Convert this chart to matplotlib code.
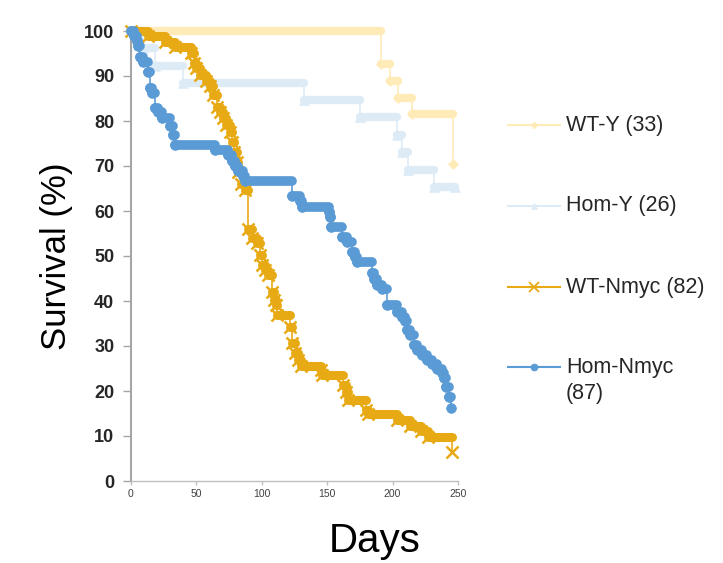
import matplotlib
matplotlib.use('Agg')
import matplotlib.pyplot as plt
from matplotlib.lines import Line2D

plt.rcParams['font.family'] = ['Liberation Sans', 'DejaVu Sans']

# Kaplan-Meier curves: day of each step, survival (%) after it
wty_days = [0, 191, 198, 204, 215, 246]
wty_surv = [100, 92.6, 88.9, 85.2, 81.5, 70.4]

homy_days = [0, 9, 18, 40, 132, 175, 203, 207, 212, 232, 248]
homy_surv = [100, 96.2, 92.3, 88.5, 84.6, 80.8, 76.9, 73.1, 69.2, 65.4, 65.4]

wtn_days = [0, 13, 26, 34, 46, 48, 49.5, 53, 57, 60.5, 63, 65.5, 68, 70.5, 73,
            75.8, 77, 79, 81, 82, 84, 87, 89.6, 92.4, 96, 98.8, 100, 102.5, 105,
            108, 109.5, 111, 112, 121.6, 123, 125, 128, 129.6, 145, 146, 162,
            164, 166, 180, 181, 203, 213, 222, 227, 245.5]
wtn_surv = [100, 98.8, 97.6, 96.4, 95.2, 92.9, 91.7, 90.2, 89.0, 87.8, 85.8,
            83.2, 82.1, 80.6, 79.1, 77.6, 75.4, 73.2, 71.0, 68.7, 66.1, 64.7,
            56.1, 53.9, 52.8, 50.2, 48.0, 46.9, 45.8, 42.0, 40.2, 39.1, 36.9,
            34.3, 30.6, 28.4, 26.9, 25.6, 24.7, 23.5, 21.3, 19.8, 18.0, 15.8,
            14.9, 13.6, 12.2, 11.1, 9.8, 6.4]

homn_days = [0, 2, 4.4, 5.4, 7, 9, 13, 14.5, 15.8, 18.4, 20.7, 23.5, 30, 32.4,
             33.7, 64, 74, 77, 79.6, 82, 85.7, 87, 123, 129, 131, 151, 152, 153,
             161, 165, 169, 171.5, 173, 184, 186, 188, 192, 195.5, 203, 207,
             209.8, 211, 213.6, 216, 218.7, 222.6, 226.4, 230.2, 234, 238, 239,
             240.5, 243, 244.8]
homn_surv = [100, 98.9, 97.7, 96.6, 94.3, 93.1, 90.8, 87.4, 86.2, 83.0, 81.9,
             80.7, 78.9, 76.9, 74.7, 73.6, 72.4, 71.2, 70.0, 68.8, 67.8, 66.7,
             63.4, 62.2, 61.0, 59.8, 58.6, 56.5, 54.3, 53.2, 51.0, 49.8, 48.7,
             46.3, 44.9, 43.6, 42.6, 39.1, 37.6, 36.5, 35.5, 33.6, 32.4, 30.2,
             29.1, 28.0, 26.9, 26.1, 25.0, 23.9, 23.0, 21.0, 18.7, 16.3]

labels = ['WT-Y (33)', 'Hom-Y (26)', 'WT-Nmyc (82)', 'Hom-Nmyc\n(87)']
colors = ['#FFEBB8', '#DDEBF7', '#E8AA14', '#5B9BD5']
markers = ['D', '^', 'x', 'o']

series = [(wty_days, wty_surv), (homy_days, homy_surv),
          (wtn_days, wtn_surv), (homn_days, homn_surv)]
msizes = [5.5, 7.5, 8, 7]
bands = [6, 6, 6.5, 7]


def draw_km(ax, days, surv, color, marker, ms, band, z):
    ax.plot(days, surv, drawstyle='steps-post', color=color, lw=1.2,
            zorder=z, clip_on=False)
    lc = ax.hlines(surv[:-1], days[:-1], days[1:], colors=color, lw=band,
                   zorder=z, clip_on=False)
    lc.set_capstyle('round')
    ax.plot(days, surv, ls='none', marker=marker, ms=ms, color=color,
            mew=1.8 if marker == 'x' else 0.5, zorder=z + 0.5, clip_on=False)


fig = plt.figure(figsize=(7.23, 5.63), dpi=100)
ax = fig.add_axes([131 / 723, 82 / 563, 327 / 723, 450 / 563])

for i, (d, s) in enumerate(series):
    draw_km(ax, d, s, colors[i], markers[i], msizes[i], bands[i], 2 + i)

ax.set_xlim(0, 250)
ax.set_ylim(0, 100)
ax.set_xticks(range(0, 251, 50))
ax.set_yticks(range(0, 101, 10))
for side in ['top', 'right']:
    ax.spines[side].set_visible(False)
ax.spines['left'].set_color('#A6A6A6')
ax.spines['left'].set_linewidth(1.5)
ax.spines['bottom'].set_color('#BFBFBF')
ax.spines['bottom'].set_linewidth(1.0)
ax.tick_params(axis='y', length=6, width=1, color='#A6A6A6', pad=6,
               labelsize=13, labelcolor='#262626')
ax.tick_params(axis='x', length=3, width=1, color='#BFBFBF', pad=3,
               labelsize=7.5, labelcolor='#404040')
for t in ax.get_yticklabels():
    t.set_fontweight('bold')

ax.set_ylabel('Survival (%)', fontsize=25, color='#000000', labelpad=8)
fig.text(375 / 723, 11 / 563, 'Days', fontsize=29, ha='center', va='baseline')

# legend, drawn by hand to keep the wide spacing of the original
def fx(px):
    return px / 723


def fy(py):
    return 1 - py / 563


leg_y = [125, 206, 287, 367]
leg_ms = [3.5, 5, 7, 5]
for i in range(4):
    y = fy(leg_y[i])
    fig.add_artist(Line2D([fx(508), fx(560)], [y, y], transform=fig.transFigure,
                          color=colors[i], lw=1.5))
    fig.add_artist(Line2D([fx(534)], [y], transform=fig.transFigure,
                          color=colors[i], marker=markers[i], ms=leg_ms[i],
                          mew=1.3 if markers[i] == 'x' else 0.5))
    lines = labels[i].split('\n')
    for k, txt in enumerate(lines):
        fig.text(fx(566), fy(leg_y[i] + 26.5 * k), txt, fontsize=15.5,
                 color='#262626', ha='left', va='center')

fig.savefig('out.png', dpi=100)
